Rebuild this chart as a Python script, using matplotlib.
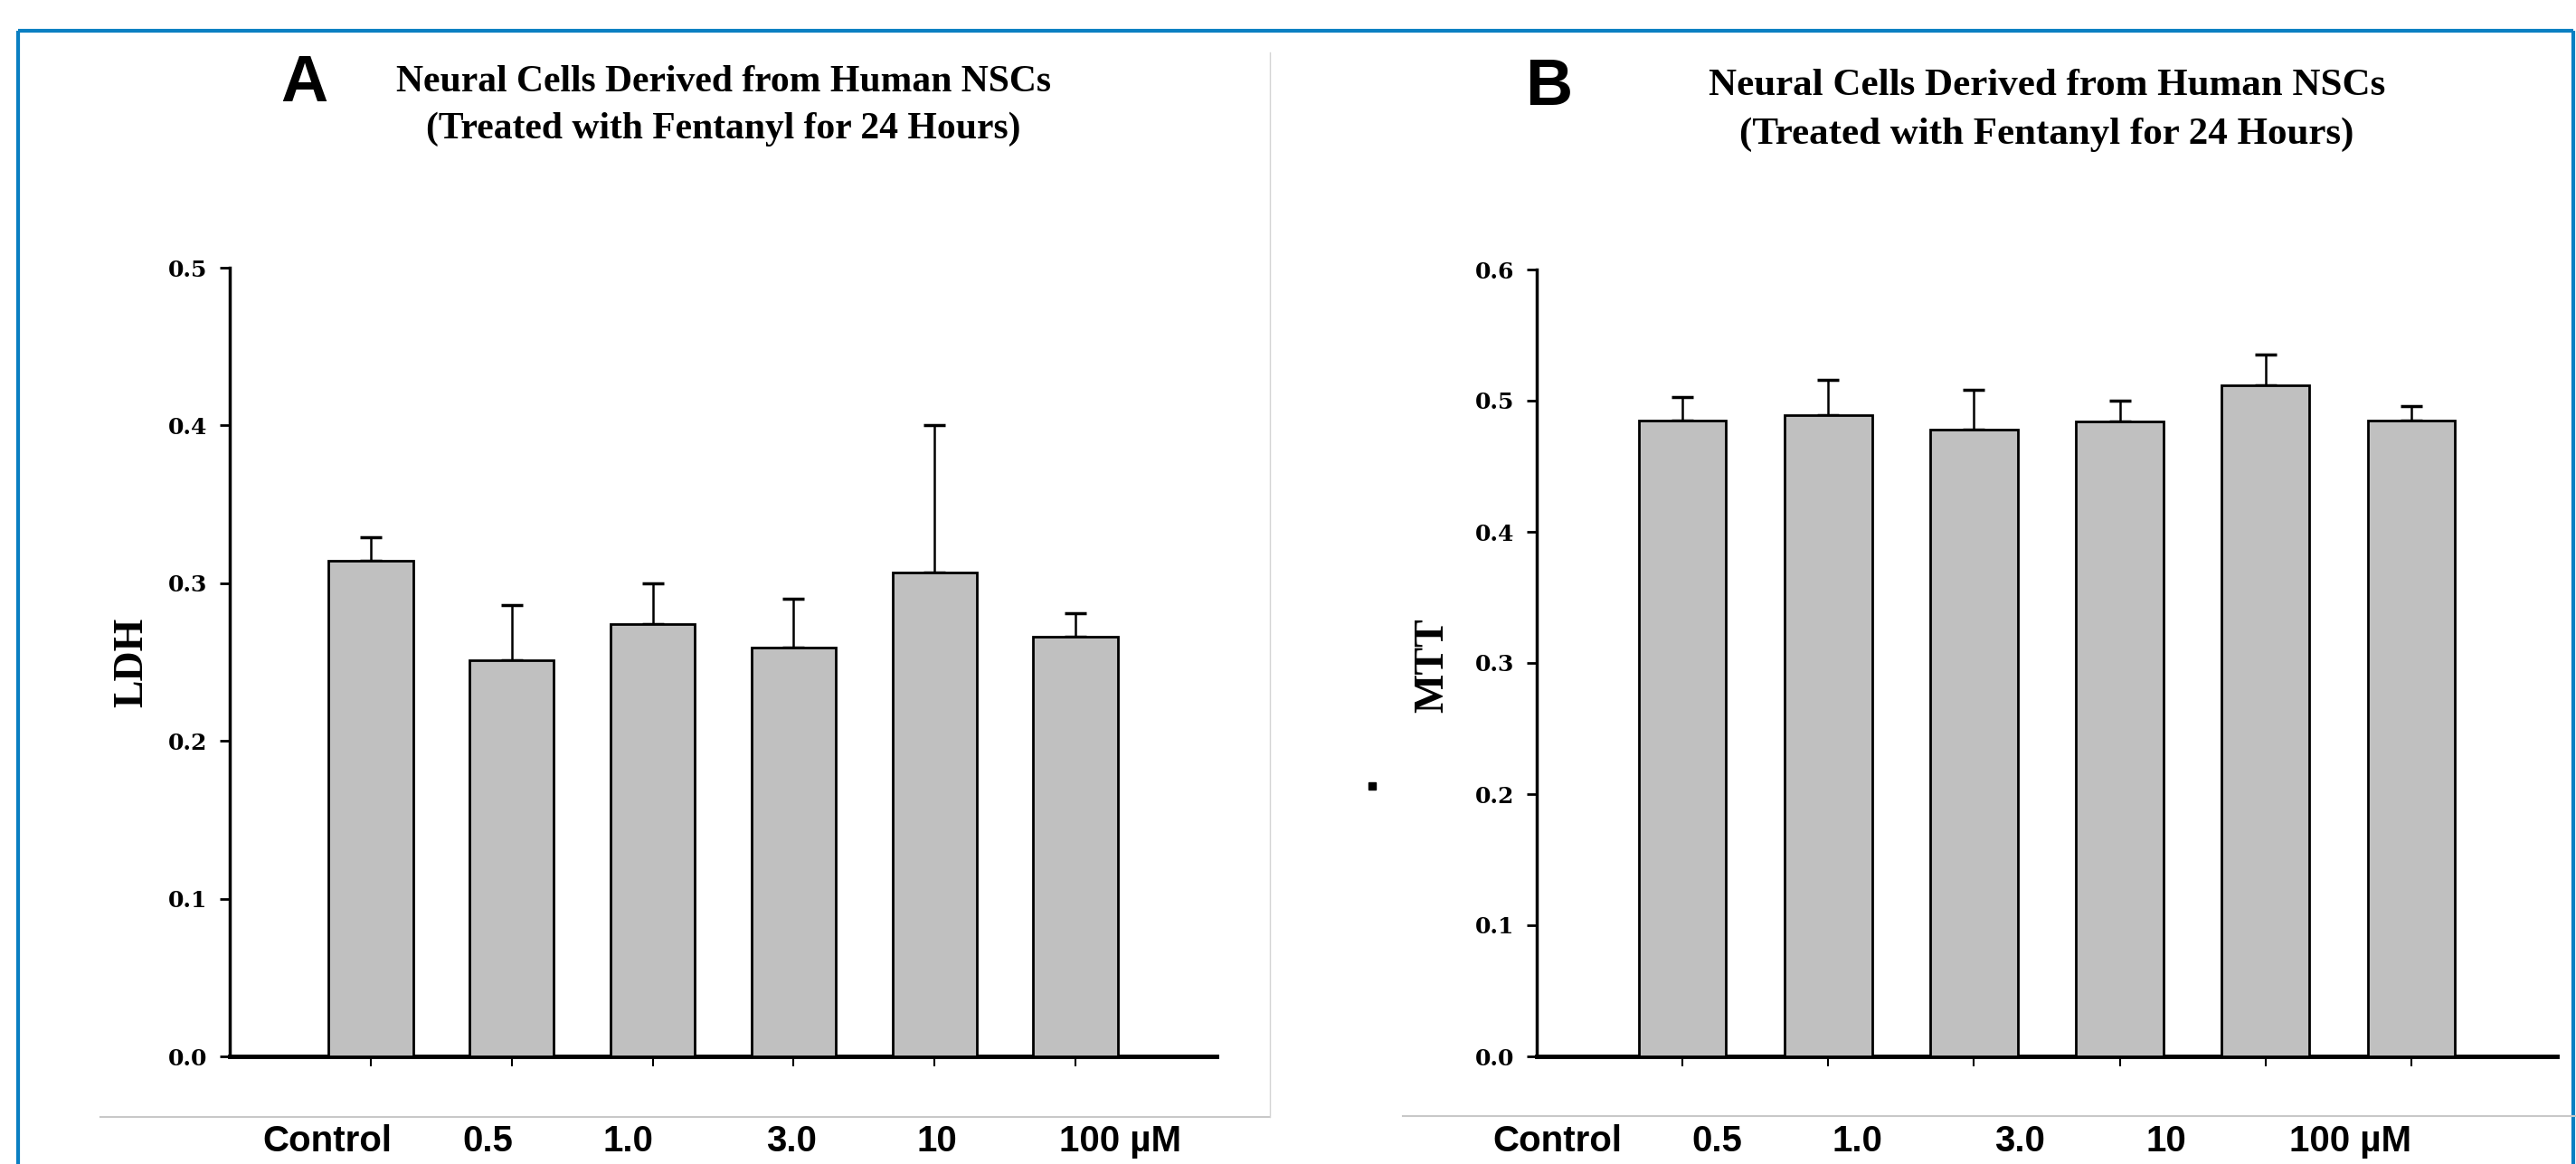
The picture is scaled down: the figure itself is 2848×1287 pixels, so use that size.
from matplotlib import pyplot as plt
from matplotlib.lines import Line2D

# doses on the x axis
labels = ["Control", "0.5", "1.0", "3.0", "10", "100 \u00b5M"]

# panel A: LDH means and upper error (SE)
ldh_mean = [0.314, 0.251, 0.274, 0.259, 0.307, 0.266]
ldh_err = [0.015, 0.035, 0.026, 0.031, 0.093, 0.015]

# panel B: MTT means and upper error
mtt_mean = [0.485, 0.489, 0.478, 0.484, 0.512, 0.485]
mtt_err = [0.018, 0.027, 0.030, 0.016, 0.023, 0.011]

title1 = "Neural Cells Derived from Human NSCs"
title2 = "(Treated with Fentanyl for 24 Hours)"

W, H = 2848, 1287

# pixel position -> figure fraction
def fx(x):
    return x / W

def fy(y):
    return 1 - y / H

# draw one bar panel
def draw_panel(ax, means, errs, ymax):
    pos = list(range(1, len(means) + 1))
    low = [0] * len(errs)
    ax.bar(pos, means, width=0.6, color="#c0c0c0", edgecolor="black",
           linewidth=2, zorder=3)
    ax.errorbar(pos, means, yerr=[low, errs], fmt="none", ecolor="black",
                elinewidth=1.8, capsize=8.3, capthick=2.5, zorder=2)
    ax.set_xlim(0, 7)
    ax.set_ylim(0, ymax)
    ticks = [i / 10 for i in range(int(round(ymax * 10)) + 1)]
    ax.set_yticks(ticks)
    ax.set_yticklabels(["%.1f" % t for t in ticks],
                       fontfamily="DejaVu Serif", fontweight="bold", fontsize=18)
    ax.set_xticks(pos)
    ax.set_xticklabels([])
    ax.tick_params(axis="y", direction="out", length=8, width=2, pad=10)
    ax.tick_params(axis="x", direction="out", length=8, width=1.5)
    ax.spines["top"].set_visible(False)
    ax.spines["right"].set_visible(False)
    ax.spines["left"].set_linewidth(2.5)
    ax.spines["bottom"].set_linewidth(3.5)
    ax.spines["bottom"].set_zorder(1)
    ax.patch.set_alpha(0)


fig = plt.figure(figsize=(28.48, 12.87), dpi=100)

axA = fig.add_axes([fx(254), fy(1168), fx(1345) - fx(254), fy(296) - fy(1168)])
draw_panel(axA, ldh_mean, ldh_err, 0.5)

axB = fig.add_axes([fx(1699), fy(1168), fx(2827) - fx(1699), fy(298) - fy(1168)])
draw_panel(axB, mtt_mean, mtt_err, 0.6)

# blue frame around the figure
blue = "#0a7fc2"
for xs, ys in [([20, 20], [1287, 34]), ([20, 2845], [34, 34]), ([2845, 2845], [34, 1287])]:
    fig.add_artist(Line2D([fx(x) for x in xs], [fy(y) for y in ys],
                          color=blue, linewidth=3, solid_capstyle="butt"))

# light grey separators
grey = "#c8c8c8"
fig.add_artist(Line2D([fx(111), fx(1403)], [fy(1235), fy(1235)], color=grey, linewidth=1.5))
fig.add_artist(Line2D([fx(1551), fx(2848)], [fy(1234), fy(1234)], color=grey, linewidth=1.5))
fig.add_artist(Line2D([fx(1404), fx(1404)], [fy(58), fy(1235)], color="#d4d4d4", linewidth=1))

# panel letters
fig.text(fx(336), fy(93), "A", fontfamily="Liberation Sans", fontweight="bold",
         fontsize=52, ha="center", va="center")
fig.text(fx(1712), fy(97), "B", fontfamily="Liberation Sans", fontweight="bold",
         fontsize=52, ha="center", va="center")

# titles
serif = dict(fontfamily="Liberation Serif", fontweight="bold", ha="center", va="center")
fig.text(fx(800), fy(91), title1, fontsize=30, **serif)
fig.text(fx(800), fy(143), title2, fontsize=30, **serif)
fig.text(fx(2263), fy(95), title1, fontsize=31, **serif)
fig.text(fx(2263), fy(149), title2, fontsize=31, **serif)

# y axis labels
fig.text(fx(146), fy(732), "LDH", fontsize=33, rotation=90, **serif)
fig.text(fx(1584), fy(736), "MTT", fontsize=33, rotation=90, **serif)

# stray dot left of panel B
fig.add_artist(Line2D([fx(1517)], [fy(869)], marker="s", markersize=5.5,
                      color="black", linestyle="none"))

# dose labels under the plots
xA = [362, 539, 694, 875, 1036, 1239]
xB = [1722, 1898, 2053, 2233, 2395, 2599]
for lab, a, b in zip(labels, xA, xB):
    fig.text(fx(a), fy(1262), lab, fontfamily="Liberation Sans", fontweight="bold",
             fontsize=29, ha="center", va="center")
    fig.text(fx(b), fy(1262), lab, fontfamily="Liberation Sans", fontweight="bold",
             fontsize=29, ha="center", va="center")

fig.savefig("out.png", dpi=100)
